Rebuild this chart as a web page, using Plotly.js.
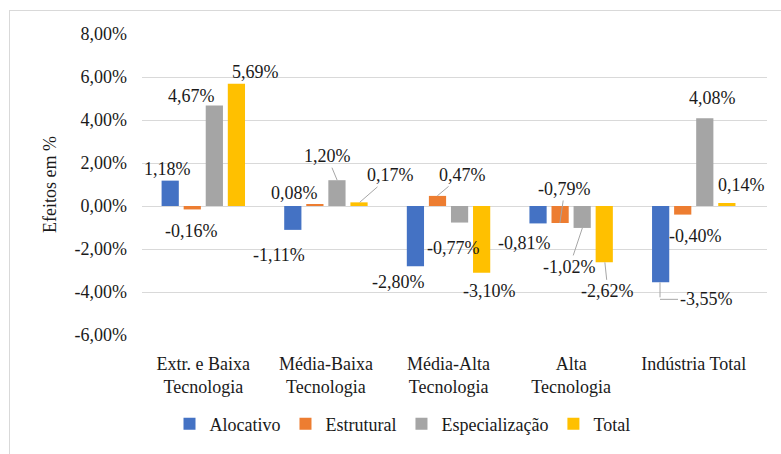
<!DOCTYPE html>
<html>
<head>
<meta charset="utf-8">
<script src="https://cdn.plot.ly/plotly-3.0.1.min.js"></script>
</head>
<body style="margin:0;padding:0;background:#fff">
<div style="position:relative;width:781px;height:454px">
<div id="chart" style="width:781px;height:454px"></div>
<div style="position:absolute;left:9px;top:10px;width:772px;height:444px;border-left:1px solid #d9d9d9;border-top:1px solid #d9d9d9;pointer-events:none"></div>
</div>
<script>
// ---- data ----
const categories = ["Extr. e Baixa<br>Tecnologia", "Média-Baixa<br>Tecnologia", "Média-Alta<br>Tecnologia", "Alta<br>Tecnologia", "Indústria Total"];
const seriesNames = ["Alocativo", "Estrutural", "Especialização", "Total"];
const alocativo      = [1.18, -1.11, -2.80, -0.81, -3.55];
const estrutural     = [-0.16, 0.08, 0.47, -0.79, -0.40];
const especializacao = [4.67, 1.20, -0.77, -1.02, 4.08];
const total          = [5.69, 0.17, -3.10, -2.62, 0.14];
const yTickVals = [-6, -4, -2, 0, 2, 4, 6, 8];

// ---- style ----
const colors = ["#4472C4", "#ED7D31", "#A5A5A5", "#FFC000"];
const FONT = "Liberation Serif";
const FS = 18;
const TXT = "#1a1a1a";
const margin = {l: 142, r: 14, t: 34, b: 106};
const W = 781, H = 454;
const bargap = 0.28, bargroupgap = 0.22;
const tf = () => ({family: FONT, size: FS, color: TXT});

// label offsets (pixels, text centre relative to bar end) and leader-line flags
const labelDx = [
  [-2, -13, -16, -13, 46],
  [-1, -20, 25, 5, 13],
  [-23, -10, -6, -13, 7],
  [18, 31, 7, 3, 14]
];
const labelDy = [
  [-12, 25, 16, 20, 17],
  [22, -11, -21, -34, 21],
  [-10, -24, 25, 39, -20],
  [-12, -27, 18, 29, -18]
];
const leader = [
  [false, false, false, false, "elbow"],
  [false, false, true, true, false],
  [false, true, false, true, false],
  [false, true, false, true, false]
];

const allSeries = [alocativo, estrutural, especializacao, total];
const traces = allSeries.map((vals, i) => ({
  type: "bar",
  name: seriesNames[i],
  x: categories,
  y: vals,
  marker: {color: colors[i]},
  hoverinfo: "skip"
}));

const plotW = W - margin.l - margin.r;
const groupW = plotW / categories.length;
const slot = groupW * (1 - bargap) / allSeries.length;
const fmt = v => v.toFixed(2).replace(".", ",") + "%";

const annotations = [];
allSeries.forEach((vals, i) => {
  const shift = (i - (allSeries.length - 1) / 2) * slot;
  vals.forEach((v, j) => {
    const lf = leader[i][j];
    if (lf === "elbow") {
      const drop = labelDy[i][j];
      annotations.push({
        x: categories[j], y: v, xref: "x", yref: "y", xshift: shift,
        text: " ", font: {family: FONT, size: 1, color: "rgba(0,0,0,0)"},
        showarrow: true, arrowhead: 0, arrowwidth: 1, arrowcolor: "#a6a6a6",
        ax: 0, ay: drop
      });
      annotations.push({
        x: categories[j], y: v, xref: "x", yref: "y", xshift: shift, yshift: -drop,
        text: fmt(v), font: tf(),
        showarrow: true, arrowhead: 0, arrowwidth: 1, arrowcolor: "#a6a6a6",
        ax: labelDx[i][j], ay: 0, standoff: 0
      });
    } else {
      annotations.push({
        x: categories[j], y: v, xref: "x", yref: "y", xshift: shift,
        text: fmt(v), font: tf(),
        showarrow: true, arrowhead: 0, arrowwidth: 1,
        arrowcolor: lf ? "#a6a6a6" : "rgba(0,0,0,0)",
        ax: labelDx[i][j], ay: labelDy[i][j]
      });
    }
  });
});

const layout = {
  width: W, height: H,
  margin: margin,
  paper_bgcolor: "rgba(0,0,0,0)",
  plot_bgcolor: "#fff",
  barmode: "group",
  bargap: bargap,
  bargroupgap: bargroupgap,
  showlegend: true,
  legend: {
    orientation: "h", x: 0.4168, xanchor: "center", y: -0.296, yanchor: "middle",
    font: tf(), traceorder: "normal"
  },
  xaxis: {
    type: "category", showgrid: false, showline: false, zeroline: false, ticks: "",
    tickfont: tf(), ticklabelstandoff: 16, fixedrange: true
  },
  yaxis: {
    range: [-6, 8], tickmode: "array", tickvals: yTickVals, ticktext: yTickVals.map(fmt),
    showgrid: true, gridcolor: "#d9d9d9", gridwidth: 1,
    zeroline: true, zerolinecolor: "#d9d9d9", zerolinewidth: 1,
    showline: false, ticks: "", ticklabelstandoff: 14,
    tickfont: tf(),
    title: {text: "Efeitos em %", font: tf(), standoff: 13},
    fixedrange: true
  },
  annotations: annotations
};

Plotly.newPlot("chart", traces, layout, {displayModeBar: false});
</script>
</body>
</html>
